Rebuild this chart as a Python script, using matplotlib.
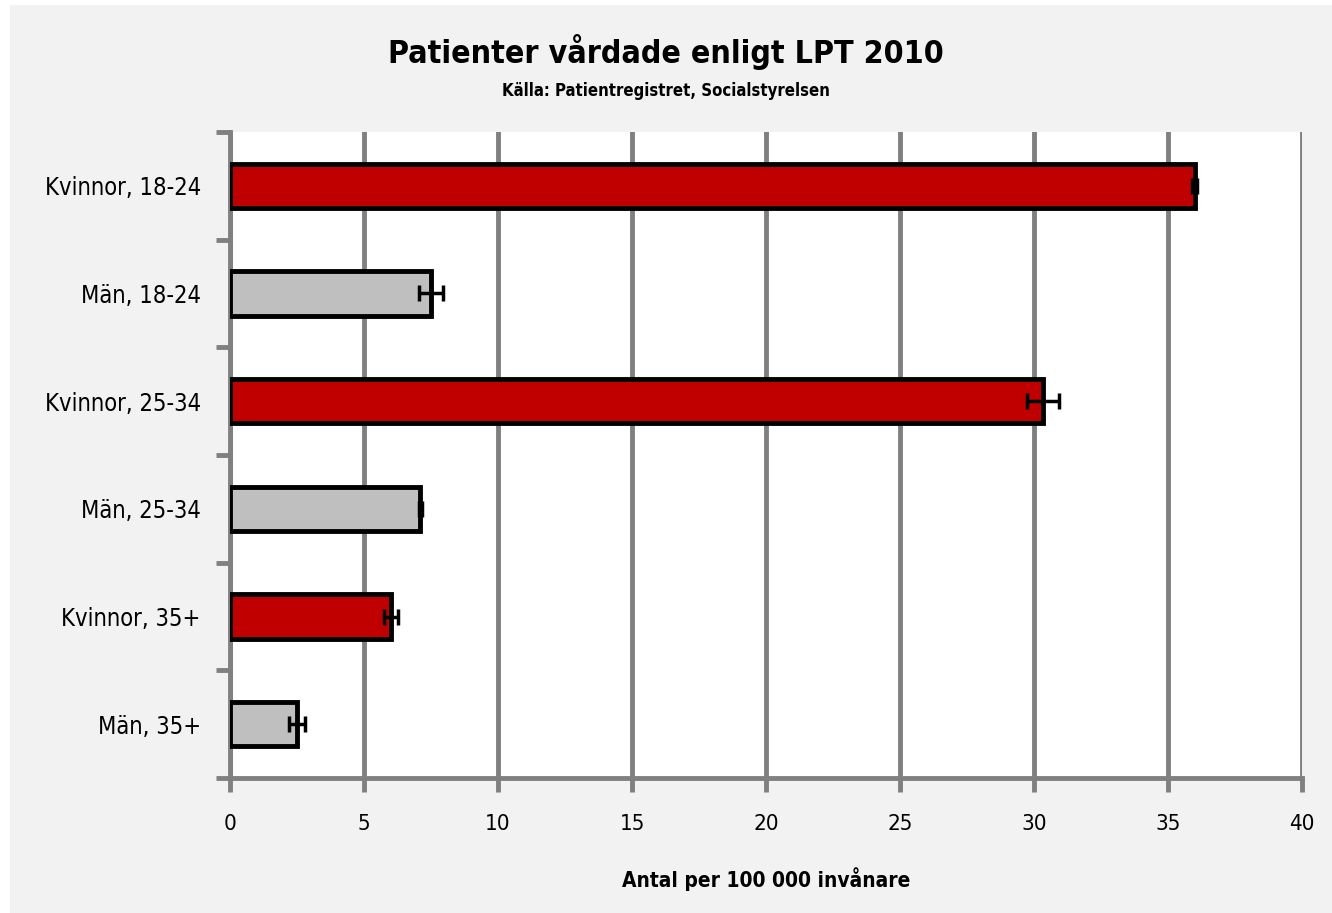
import matplotlib
matplotlib.use("Agg")
import matplotlib.pyplot as plt
import numpy as np

# narrow font like the original (Arial Narrow) -> DejaVu Sans Condensed
plt.rcParams['font.family'] = ['DejaVu Sans']
plt.rcParams['font.stretch'] = 'condensed'

categories = ["Kvinnor, 18-24", "Män, 18-24", "Kvinnor, 25-34",
              "Män, 25-34", "Kvinnor, 35+", "Män, 35+"]
values = [36.0, 7.5, 30.35, 7.1, 6.0, 2.5]
errors = [0.1, 0.45, 0.6, 0.05, 0.25, 0.3]
colors = ["#c00000", "#bfbfbf", "#c00000", "#bfbfbf", "#c00000", "#bfbfbf"]
xticks = [0, 5, 10, 15, 20, 25, 30, 35, 40]

W, H = 1332, 913
fig = plt.figure(figsize=(W / 100, H / 100), dpi=100)
fig.patch.set_facecolor("white")
# grey chart area
fig.patches.append(plt.Rectangle((10 / W, 0), 1 - 10 / W, 1 - 5 / H,
                                 transform=fig.transFigure, facecolor="#f2f2f2",
                                 edgecolor="none", zorder=-1))

ax = fig.add_axes([230 / W, 1 - 778 / H, (1302 - 230) / W, (778 - 132) / H])
ax.set_facecolor("white")

y = np.arange(len(categories))
ax.barh(y, values, height=0.41, color=colors, edgecolor="black", linewidth=3.5, zorder=3)
ax.errorbar(values, y, xerr=errors, fmt="none", ecolor="black", elinewidth=2.5,
            capsize=6, capthick=2.5, zorder=4)

ax.set_ylim(len(categories) - 0.5, -0.5)
ax.set_xlim(0, 40)
ax.set_xticks(xticks)
ax.set_xticklabels([str(t) for t in xticks], fontsize=16)
ax.set_yticks(y)
ax.set_yticklabels(categories, fontsize=17)
ax.set_yticks(np.arange(len(categories) + 1) - 0.5, minor=True)

ax.grid(axis="x", color="#808080", linewidth=3.5, zorder=1)
for s in ["top", "right"]:
    ax.spines[s].set_visible(False)
for s in ["left", "bottom"]:
    ax.spines[s].set_color("#808080")
    ax.spines[s].set_linewidth(3.5)
ax.tick_params(axis="y", which="major", length=0, pad=21)
ax.tick_params(axis="y", which="minor", length=10, width=3.5, color="#808080")
ax.tick_params(axis="x", length=10, width=3.5, color="#808080", pad=16)

ax.set_xlabel("Antal per 100 000 invånare", fontsize=15, fontweight="bold", labelpad=24)

fig.text(0.5, 1 - 52 / H, "Patienter vårdade enligt LPT 2010", ha="center", va="center",
         fontsize=23, fontweight="bold")
fig.text(0.5, 1 - 91 / H, "Källa: Patientregistret, Socialstyrelsen", ha="center", va="center",
         fontsize=12, fontweight="bold")

fig.savefig("out.png", dpi=100)
